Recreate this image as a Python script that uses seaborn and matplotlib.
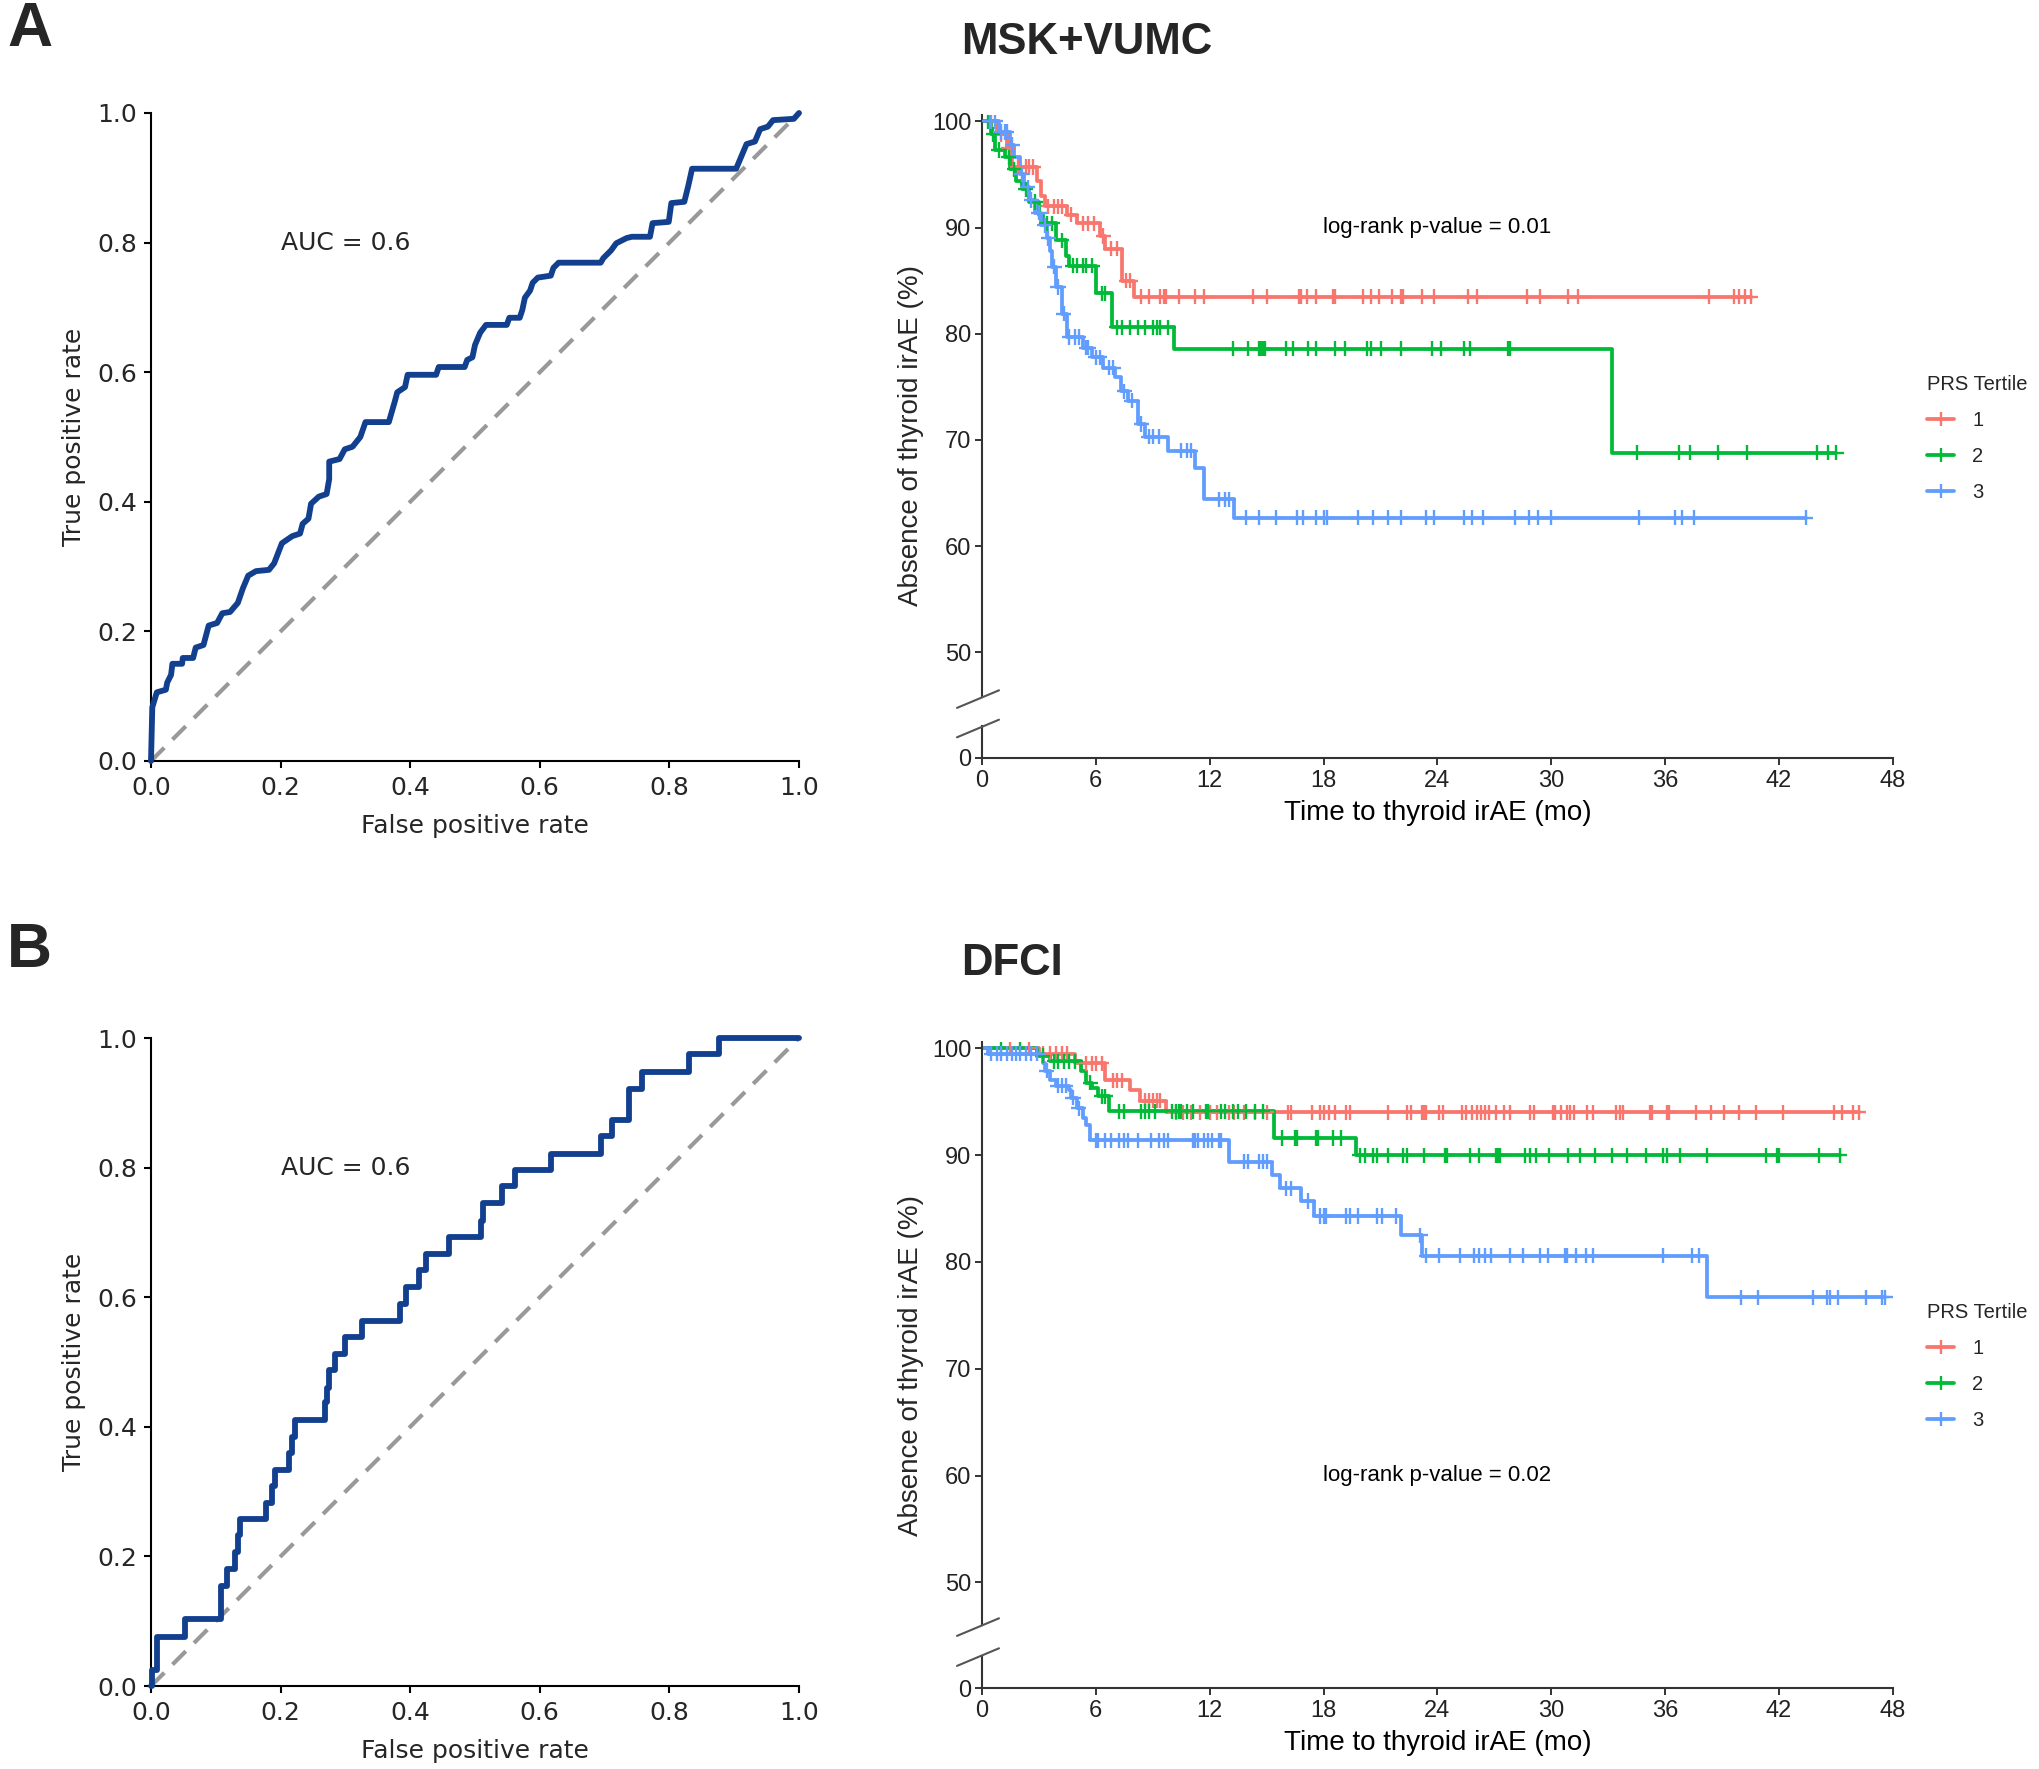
import numpy as np
import pandas as pd
import matplotlib
matplotlib.use("Agg")
import matplotlib.pyplot as plt
from matplotlib.lines import Line2D
import seaborn as sns

# ---------------- DATA ----------------
# ROC curve, panel A (MSK+VUMC): vertices
roc_a_fpr = [0.000,0.002,0.009,0.023,0.025,0.031,0.033,0.048,0.049,0.065,
             0.069,0.081,0.089,0.102,0.110,0.122,0.134,0.142,0.150,0.162,
             0.182,0.190,0.202,0.218,0.230,0.234,0.243,0.247,0.259,0.271,
             0.275,0.275,0.291,0.299,0.311,0.323,0.331,0.367,0.376,0.380,
             0.392,0.396,0.440,0.444,0.484,0.488,0.496,0.500,0.508,0.517,
             0.549,0.553,0.569,0.573,0.577,0.585,0.589,0.597,0.617,0.621,
             0.629,0.694,0.698,0.710,0.718,0.734,0.742,0.770,0.774,0.799,
             0.803,0.823,0.829,0.835,0.903,0.911,0.919,0.932,0.940,0.952,
             0.960,0.992,1.000]
roc_a_tpr = [0.000,0.083,0.106,0.110,0.121,0.133,0.150,0.150,0.159,0.159,
             0.175,0.179,0.209,0.213,0.228,0.230,0.244,0.267,0.286,0.293,
             0.295,0.305,0.336,0.347,0.351,0.366,0.374,0.397,0.408,0.412,
             0.435,0.462,0.466,0.481,0.485,0.500,0.523,0.523,0.554,0.569,
             0.577,0.596,0.596,0.608,0.608,0.619,0.623,0.642,0.661,0.673,
             0.673,0.684,0.684,0.696,0.715,0.726,0.738,0.746,0.749,0.761,
             0.769,0.769,0.776,0.788,0.799,0.807,0.809,0.809,0.830,0.832,
             0.861,0.863,0.887,0.914,0.914,0.933,0.952,0.956,0.975,0.979,
             0.989,0.991,1.000]
# ROC curve, panel B (DFCI): staircase jump points
roc_b_fpr = [0.000,0.001,0.009,0.053,0.108,0.118,0.130,0.135,0.138,0.178,
             0.186,0.192,0.213,0.217,0.222,0.268,0.272,0.275,0.284,0.299,
             0.325,0.384,0.393,0.413,0.425,0.460,0.509,0.512,0.542,0.561,
             0.617,0.694,0.712,0.738,0.758,0.831,0.877,1.000]
roc_b_tpr = [0.000,0.025,0.076,0.103,0.154,0.180,0.207,0.233,0.257,0.282,
             0.309,0.334,0.360,0.385,0.410,0.438,0.460,0.488,0.513,0.538,
             0.564,0.589,0.615,0.642,0.667,0.693,0.718,0.746,0.771,0.796,
             0.821,0.848,0.874,0.922,0.948,0.975,1.000,1.000]
auc_labels = ["AUC = 0.6", "AUC = 0.6"]

tertiles = ["1", "2", "3"]
tertile_colors = ["#F8766D", "#00BA38", "#619CFF"]

# Kaplan-Meier, panel A (MSK+VUMC): event times (mo), survival after event (%), censor times
a_t1_evt = [0.8, 1.3, 1.6, 2.9, 3.1, 3.3, 4.5, 5.0, 6.2, 6.5, 7.4, 8.0]
a_t1_srv = [98.8, 97.5, 95.7, 94.4, 93.0, 92.0, 91.2, 90.4, 89.2, 88.0, 85.0, 83.5]
a_t1_cen = [0.5, 1.0, 1.4, 1.9, 2.3, 2.5, 2.7, 3.5, 3.8, 4.0, 4.2, 4.7, 5.3, 5.6, 5.9, 6.4,
            6.8, 7.1, 7.6, 7.8, 8.4, 8.8, 9.4, 9.6, 9.7, 10.4, 11.2, 11.7, 14.3, 15.0,
            16.7, 16.8, 17.1, 17.6, 18.5, 18.6, 20.1, 20.5, 20.9, 21.6, 22.1, 22.2,
            23.2, 23.8, 25.6, 26.1, 28.7, 29.4, 30.9, 31.4, 38.3, 39.6, 39.9, 40.2, 40.5]
a_t2_evt = [0.5, 0.7, 1.2, 1.5, 1.8, 2.1, 2.5, 3.0, 3.2, 3.9, 4.4, 4.6, 6.0, 6.85, 10.1, 33.2]
a_t2_srv = [98.8, 97.3, 96.6, 95.5, 94.4, 93.6, 92.4, 91.2, 90.4, 88.8, 87.3, 86.4,
            83.8, 80.6, 78.6, 68.8]
a_t2_cen = [0.3, 0.6, 0.9, 1.4, 1.7, 2.3, 2.8, 3.4, 3.7, 4.2, 4.8, 5.0, 5.3, 5.5, 5.8,
            6.3, 6.5, 7.1, 7.4, 7.8, 8.2, 8.6, 9.0, 9.2, 9.4, 9.8, 13.2, 14.0, 14.6,
            14.7, 14.8, 14.9, 16.0, 16.4, 17.2, 17.6, 18.6, 19.1, 20.3, 20.5, 21.0,
            22.1, 23.7, 24.2, 25.4, 25.7, 27.7, 27.8, 34.5, 36.7, 37.3, 38.8, 40.3,
            44.0, 44.6, 45.0]
a_t3_evt = [0.9, 1.5, 1.7, 2.0, 2.2, 2.5, 2.8, 3.1, 3.4, 3.6, 3.7, 3.9, 4.2, 4.5, 5.3,
            5.8, 6.4, 7.0, 7.3, 7.7, 8.2, 8.6, 9.8, 11.2, 11.7, 13.3]
a_t3_srv = [99.0, 97.8, 96.6, 95.0, 93.8, 92.6, 91.4, 90.2, 89.0, 87.8, 86.3, 84.4,
            81.9, 79.7, 78.7, 77.8, 76.8, 75.9, 74.6, 73.7, 71.5, 70.3, 69.0, 67.4,
            64.4, 62.7]
a_t3_cen = [0.4, 0.7, 1.0, 1.2, 1.3, 1.6, 2.1, 2.4, 2.6, 3.0, 3.3, 3.5, 3.8, 4.0, 4.3,
            4.6, 4.9, 5.1, 5.5, 5.6, 6.0, 6.2, 6.7, 6.9, 7.5, 7.9, 8.4, 8.8, 9.0, 9.3,
            10.5, 10.8, 11.0, 12.5, 12.8, 13.0, 13.9, 14.6, 15.5, 16.6, 16.9, 17.6,
            18.0, 18.2, 19.8, 20.6, 21.4, 22.1, 23.4, 23.8, 25.4, 25.8, 26.4, 28.1,
            28.8, 29.3, 30.0, 34.6, 36.5, 36.9, 37.5, 43.4]

# Kaplan-Meier, panel B (DFCI)
b_t1_evt = [3.0, 4.9, 6.5, 7.8, 8.3, 9.7]
b_t1_srv = [99.5, 98.6, 97.0, 96.1, 95.1, 94.0]
b_t1_cen = [1.5, 2.5, 3.2, 3.6, 3.9, 4.2, 4.5, 5.5, 5.8, 6.0, 6.3, 6.9, 7.1, 7.4, 8.6,
            8.8, 9.0, 9.2, 9.4, 10.2, 10.6, 11.0, 11.5, 12.0, 12.4, 13.0, 13.3, 13.8,
            14.4, 15.0, 16.1, 16.3, 17.4, 17.8, 18.0, 18.3, 18.6, 19.2, 19.4, 21.4,
            22.4, 22.6, 23.2, 23.3, 23.4, 24.1, 24.3, 25.3, 25.5, 25.8, 26.1, 26.3,
            26.5, 26.7, 27.1, 27.5, 27.8, 28.9, 29.1, 30.1, 30.2, 30.5, 30.8, 31.0,
            31.2, 31.9, 32.2, 33.4, 33.6, 33.8, 35.2, 35.3, 36.1, 36.2, 37.6, 38.4,
            39.1, 39.9, 40.8, 42.2, 44.9, 45.3, 45.9, 46.2]
b_t2_evt = [2.9, 3.6, 5.2, 5.5, 5.8, 6.1, 6.7, 15.4, 19.7]
b_t2_srv = [99.3, 98.8, 97.9, 96.8, 96.3, 95.5, 94.1, 91.6, 90.0]
b_t2_cen = [1.0, 2.0, 3.2, 3.8, 4.0, 4.3, 4.6, 4.9, 5.7, 6.3, 6.5, 7.2, 7.5, 8.4, 8.6,
            8.8, 9.1, 10.0, 10.2, 10.4, 10.5, 10.8, 11.1, 11.8, 11.9, 12.6, 12.8, 13.2,
            13.5, 13.9, 14.4, 14.8, 15.8, 16.5, 16.6, 17.6, 17.7, 18.5, 18.9, 19.9,
            20.2, 20.6, 20.8, 21.4, 22.2, 22.4, 23.3, 24.4, 24.5, 25.7, 26.2, 27.1,
            27.2, 27.3, 28.6, 28.9, 29.2, 29.9, 30.9, 31.5, 32.3, 33.2, 34.0, 35.0,
            35.9, 36.1, 36.8, 38.2, 41.3, 41.9, 42.0, 44.1, 45.2]
b_t3_evt = [0.3, 3.2, 3.3, 3.6, 3.9, 4.6, 4.7, 5.0, 5.3, 5.5, 5.7, 13.0, 15.3, 15.7,
            16.8, 17.5, 22.1, 23.2, 38.2]
b_t3_srv = [99.5, 98.6, 97.9, 97.0, 96.5, 96.1, 95.4, 94.4, 93.5, 92.8, 91.4, 89.4,
            88.1, 86.9, 85.7, 84.3, 82.5, 80.6, 76.7]
b_t3_cen = [0.5, 0.8, 1.0, 1.3, 1.6, 1.8, 2.0, 2.3, 2.6, 2.9, 3.4, 4.0, 4.2, 4.4, 4.8,
            5.1, 6.0, 6.1, 6.5, 6.8, 7.2, 7.5, 7.7, 8.2, 8.9, 9.3, 9.6, 9.8, 11.1, 11.2,
            11.4, 11.7, 11.9, 12.1, 12.5, 12.6, 13.8, 14.0, 14.6, 14.8, 15.0, 16.0,
            16.3, 17.2, 17.8, 18.0, 18.1, 19.2, 19.4, 19.8, 20.8, 21.1, 21.8, 23.1,
            23.4, 24.1, 25.2, 25.9, 26.2, 26.5, 26.8, 27.8, 28.5, 29.4, 29.8, 30.7,
            30.8, 31.3, 31.8, 32.2, 35.9, 37.4, 37.8, 40.0, 40.9, 43.8, 44.5, 44.7,
            45.1, 46.6, 47.4, 47.6]

km_titles = ["MSK+VUMC", "DFCI"]
panel_letters = ["A", "B"]
pvalue_labels = ["log-rank p-value = 0.01", "log-rank p-value = 0.02"]
km_x_ticks = [0, 6, 12, 18, 24, 30, 36, 42, 48]
km_y_ticks = [50, 60, 70, 80, 90, 100]

# ---------------- STYLE ----------------
sns.set_style("ticks")
plt.rcParams["font.family"] = ["Liberation Sans", "DejaVu Sans"]

W, H = 2040, 1769
fig = plt.figure(figsize=(W / 100, H / 100), dpi=100)


def add_ax(left, top, right, bottom):
    return fig.add_axes([left / W, 1 - bottom / H, (right - left) / W, (bottom - top) / H])


def fy(y):
    return 1 - y / H


NAVY = "#12408F"
AX_COL = "#333333"
TXT_COL = "#222222"


def roc_panel(ax, fpr, tpr, steps, auc_text):
    df = pd.DataFrame({"fpr": fpr, "tpr": tpr})
    sns.lineplot(data=df, x="fpr", y="tpr", ax=ax, color=NAVY, lw=4.2,
                 estimator=None, sort=False,
                 drawstyle="steps-post" if steps else "default", clip_on=False, zorder=3)
    diag = pd.DataFrame({"x": [0, 1], "y": [0, 1]})
    sns.lineplot(data=diag, x="x", y="y", ax=ax, color="#999999", lw=3.0,
                 dashes=False, estimator=None)
    ax.lines[-1].set_dashes((4.5, 2.8))
    ax.set_xlim(0, 1)
    ax.set_ylim(0, 1)
    ticks = [0.0, 0.2, 0.4, 0.6, 0.8, 1.0]
    ax.set_xticks(ticks)
    ax.set_yticks(ticks)
    ax.set_xticklabels([f"{t:.1f}" for t in ticks], family="DejaVu Sans", fontsize=18)
    ax.set_yticklabels([f"{t:.1f}" for t in ticks], family="DejaVu Sans", fontsize=18)
    ax.tick_params(axis="both", length=5, width=1.5, color="black")
    ax.tick_params(axis="x", pad=6)
    ax.tick_params(axis="y", pad=5)
    ax.set_xlabel("False positive rate", family="DejaVu Sans", fontsize=18, labelpad=10)
    ax.set_ylabel("True positive rate", family="DejaVu Sans", fontsize=18, labelpad=8)
    for s in ["top", "right"]:
        ax.spines[s].set_visible(False)
    for s in ["left", "bottom"]:
        ax.spines[s].set_linewidth(1.5)
        ax.spines[s].set_color("black")
    ax.text(0.30, 0.80, auc_text, family="DejaVu Sans", fontsize=18,
            ha="center", va="center")


def km_panel(ax, stub, groups, pval_text, pval_y):
    line_rows, cen_rows = [], []
    for lab, (evt, srv, cen) in zip(tertiles, groups):
        end = max(cen)
        ts = [0.0] + list(evt) + [end]
        ss = [100.0] + list(srv) + [srv[-1]]
        for t, s in zip(ts, ss):
            line_rows.append({"t": t, "s": s, "g": lab})
        lev = np.array([100.0] + list(srv))
        idx = np.searchsorted(np.array(evt), np.array(cen), side="right")
        for t, s in zip(cen, lev[idx]):
            cen_rows.append({"t": t, "s": s, "g": lab})
    ldf = pd.DataFrame(line_rows)
    cdf = pd.DataFrame(cen_rows)
    sns.lineplot(data=ldf, x="t", y="s", hue="g", palette=tertile_colors,
                 hue_order=tertiles, drawstyle="steps-post", estimator=None,
                 sort=False, lw=2.7, legend=False, ax=ax)
    sns.scatterplot(data=cdf, x="t", y="s", hue="g", palette=tertile_colors,
                    hue_order=tertiles, marker="+", s=120, linewidth=1.7,
                    legend=False, ax=ax, zorder=4)
    for a in (ax, stub):
        a.set_xlim(0, 48)
        for s in ["top", "right"]:
            a.spines[s].set_visible(False)
        for s in ["left", "bottom"]:
            a.spines[s].set_linewidth(1.5)
            a.spines[s].set_color(AX_COL)
        a.tick_params(axis="both", length=5, width=1.4, color=AX_COL,
                      labelsize=17, labelcolor=TXT_COL)
        a.tick_params(axis="y", pad=2.5)
        a.tick_params(axis="x", pad=3.5)
        a.set_ylabel("")
    ax.spines["bottom"].set_visible(False)
    ax.set_xticks([])
    ax.set_xlabel("")
    ax.set_yticks(km_y_ticks)
    ax.set_yticklabels([str(v) for v in km_y_ticks])
    stub.set_ylim(0, 3)
    stub.set_yticks([0])
    stub.set_yticklabels(["0"])
    stub.set_xticks(km_x_ticks)
    stub.set_xticklabels([str(v) for v in km_x_ticks])
    stub.set_xlabel("Time to thyroid irAE (mo)", fontsize=20, labelpad=6, color="black")
    ax.text(24.0, pval_y, pval_text, fontsize=16, ha="center", va="center", color="black")


def break_marks(x_axis, y_top, y_bot):
    for yc in (y_top, y_bot):
        fig.add_artist(Line2D([(x_axis - 26) / W, (x_axis + 16) / W],
                              [fy(yc + 10.9), fy(yc - 6.7)],
                              color="#555555", lw=1.5, transform=fig.transFigure))


def km_legend(ax, title_top_y):
    handles = [Line2D([0], [0], color=c, lw=2.7, marker="+", markersize=10, mew=1.7)
               for c in tertile_colors]
    ax.legend(handles, tertiles, title="PRS Tertile", loc="upper left",
              bbox_to_anchor=(1927 / W, fy(title_top_y)), bbox_transform=fig.transFigure,
              frameon=False, fontsize=14.5, title_fontsize=14.5, handlelength=1.35,
              handletextpad=0.9, labelspacing=0.84, alignment="left", borderpad=0,
              borderaxespad=0)


# ---------------- PANEL A ----------------
roc_a = add_ax(151, 113, 799, 761)
roc_panel(roc_a, roc_a_fpr, roc_a_tpr, False, auc_labels[0])

km_a = add_ax(982, 115, 1893, 697)
km_a.set_ylim(45.8, 100.6)
km_a_stub = add_ax(982, 726, 1893, 758)
km_panel(km_a, km_a_stub,
         [(a_t1_evt, a_t1_srv, a_t1_cen), (a_t2_evt, a_t2_srv, a_t2_cen),
          (a_t3_evt, a_t3_srv, a_t3_cen)], pvalue_labels[0], 90.0)
break_marks(983, 697, 726.4)
km_legend(km_a, 375)
fig.text(911 / W, fy(436), "Absence of thyroid irAE (%)", rotation=90, fontsize=20,
         ha="center", va="center")

# ---------------- PANEL B ----------------
roc_b = add_ax(151, 1038, 799, 1686)
roc_panel(roc_b, roc_b_fpr, roc_b_tpr, True, auc_labels[1])

km_b = add_ax(982, 1042, 1893, 1625)
km_b.set_ylim(46.0, 100.6)
km_b_stub = add_ax(982, 1657, 1893, 1688)
km_panel(km_b, km_b_stub,
         [(b_t1_evt, b_t1_srv, b_t1_cen), (b_t2_evt, b_t2_srv, b_t2_cen),
          (b_t3_evt, b_t3_srv, b_t3_cen)], pvalue_labels[1], 60.0)
break_marks(983, 1625, 1655)
km_legend(km_b, 1303)
fig.text(911 / W, fy(1365), "Absence of thyroid irAE (%)", rotation=90, fontsize=20,
         ha="center", va="center")

# ---------------- TITLES ----------------
bold_font = ["Liberation Sans", "DejaVu Sans"]
fig.text(7 / W, fy(29), panel_letters[0], family=bold_font, weight="bold",
         fontsize=45, ha="left", va="center")
fig.text(7 / W, fy(950), panel_letters[1], family=bold_font, weight="bold",
         fontsize=45, ha="left", va="center")
fig.text(961 / W, fy(42), km_titles[0], family=bold_font, weight="bold",
         fontsize=31.5, ha="left", va="center")
fig.text(961 / W, fy(963), km_titles[1], family=bold_font, weight="bold",
         fontsize=31.5, ha="left", va="center")

fig.savefig("out.png", dpi=100)
